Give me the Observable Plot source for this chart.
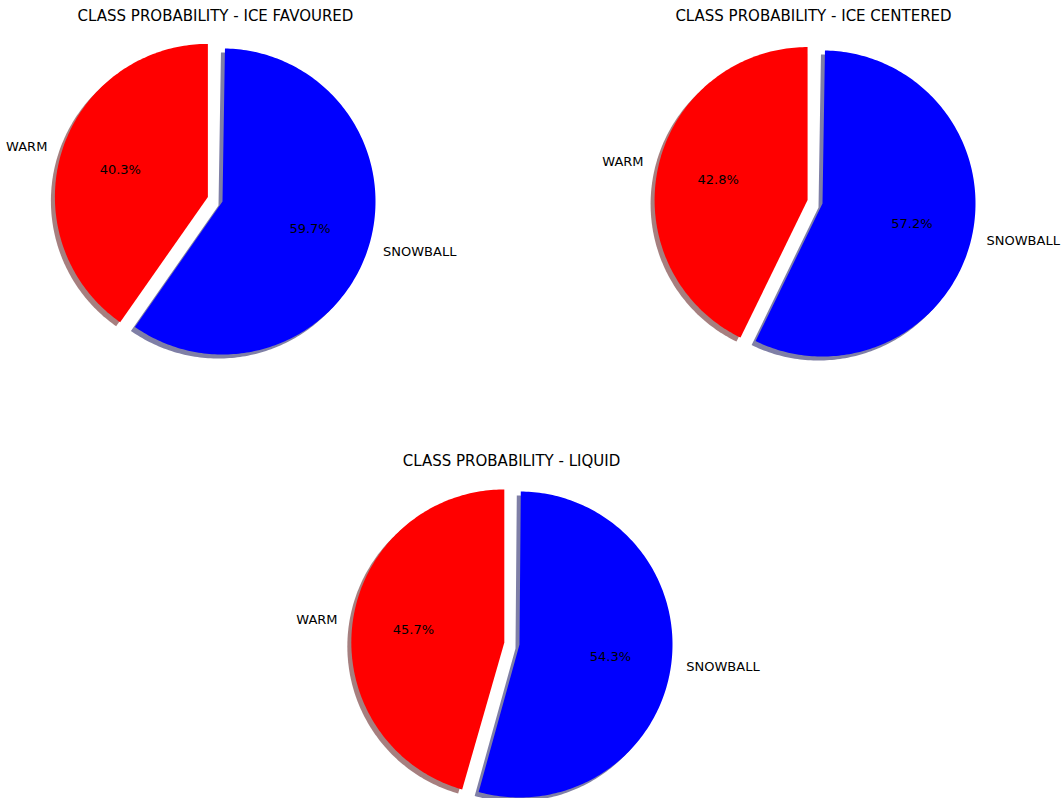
<!DOCTYPE html>
<html>
<head>
<meta charset="utf-8">
<script src="https://cdn.jsdelivr.net/npm/d3@7"></script>
<script src="https://cdn.jsdelivr.net/npm/@observablehq/plot@0.6"></script>
<style>
  body { margin: 0; background: #fff; }
</style>
</head>
<body>
<div id="chart"></div>
<script>
// chart values
const titles = ["CLASS PROBABILITY - ICE FAVOURED", "CLASS PROBABILITY - ICE CENTERED", "CLASS PROBABILITY - LIQUID"];
const classes = ["WARM", "SNOWBALL"];
const warm = [40.3, 42.8, 45.7];
const snowball = [59.7, 57.2, 54.3];
const colors = ["#ff0000", "#0000ff"];
const shadowColors = ["#4d0000", "#00004d"];

// layout of the three pies (pixel space)
const centers = [[222, 201], [822, 203], [519, 644]];
const R = 153;
const explode = [0.1, 0];

const slices = [], shadows = [], labels = [], pcts = [];
titles.forEach((t, p) => {
    const [cx, cy] = centers[p];
    const vals = [warm[p], snowball[p]];
    let a0 = 90; // start angle, counterclockwise like matplotlib
    vals.forEach((v, k) => {
        const a1 = a0 + v / 100 * 360;
        const mid = (a0 + a1) / 2 * Math.PI / 180;
        const ox = cx + explode[k] * R * Math.cos(mid);
        const oy = cy - explode[k] * R * Math.sin(mid);
        const pts = [[ox, oy]];
        for (let a = a0; a <= a1 + 1e-9; a += 1) {
            const r = a * Math.PI / 180;
            pts.push([ox + R * Math.cos(r), oy - R * Math.sin(r)]);
        }
        pts.push([ox, oy]);
        const id = `${p}-${k}`;
        pts.forEach(([x, y]) => {
            slices.push({id, x, y, k});
            shadows.push({id, x: x - 4, y: y + 4, k});
        });
        labels.push({x: ox + 1.1 * R * Math.cos(mid), y: oy - 1.1 * R * Math.sin(mid), text: classes[k], left: Math.cos(mid) < 0});
        pcts.push({x: ox + 0.6 * R * Math.cos(mid), y: oy - 0.6 * R * Math.sin(mid), text: v.toFixed(1) + "%"});
        a0 = a1;
    });
});
const titleRows = titles.map((t, p) => ({text: t, x: p === 0 ? 215 : p === 1 ? 813 : 511, y: p === 2 ? 461 : 16}));

const chart = Plot.plot({
    width: 1062,
    height: 798,
    margin: 0,
    x: {domain: [0, 1062], axis: null},
    y: {domain: [0, 798], axis: null, reverse: true},
    style: {fontFamily: "DejaVu Sans, sans-serif", background: "#fff"},
    marks: [
        Plot.line(shadows, {x: "x", y: "y", z: "id", fill: (d) => shadowColors[d.k], fillOpacity: 0.5, stroke: "none", curve: "linear"}),
        Plot.line(slices, {x: "x", y: "y", z: "id", fill: (d) => colors[d.k], stroke: "none", curve: "linear"}),
        Plot.text(labels.filter((d) => d.left), {x: "x", y: "y", text: "text", textAnchor: "end", fontSize: 13, fill: "#000"}),
        Plot.text(labels.filter((d) => !d.left), {x: "x", y: "y", text: "text", textAnchor: "start", fontSize: 13, fill: "#000"}),
        Plot.text(pcts, {x: "x", y: "y", text: "text", fontSize: 13, fill: "#000"}),
        Plot.text(titleRows, {x: "x", y: "y", text: "text", fontSize: 15, fill: "#000"})
    ]
});
document.getElementById("chart").append(chart);
</script>
</body>
</html>
